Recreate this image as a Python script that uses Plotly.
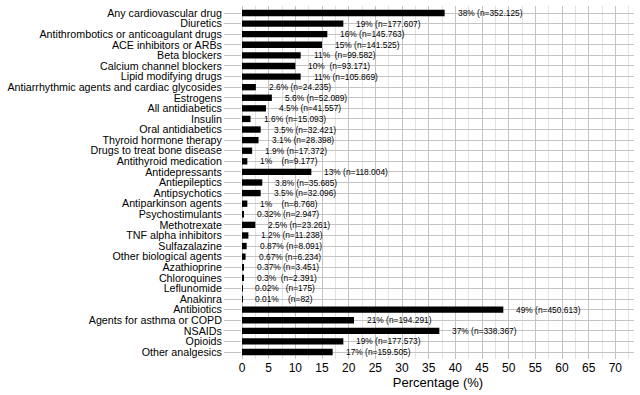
import plotly.graph_objects as go

categories = [
    "Any cardiovascular drug", "Diuretics", "Antithrombotics or anticoagulant drugs",
    "ACE inhibitors or ARBs", "Beta blockers", "Calcium channel blockers",
    "Lipid modifying drugs", "Antiarrhythmic agents and cardiac glycosides", "Estrogens",
    "All antidiabetics", "Insulin", "Oral antidiabetics", "Thyroid hormone therapy",
    "Drugs to treat bone disease", "Antithyroid medication", "Antidepressants",
    "Antiepileptics", "Antipsychotics", "Antiparkinson agents", "Psychostimulants",
    "Methotrexate", "TNF alpha inhibitors", "Sulfazalazine", "Other biological agents",
    "Azathioprine", "Chloroquines", "Leflunomide", "Anakinra", "Antibiotics",
    "Agents for asthma or COPD", "NSAIDs", "Opioids", "Other analgesics",
]
percent = [38, 19, 16, 15, 11, 10, 11, 2.6, 5.6, 4.5, 1.6, 3.5, 3.1, 1.9, 1, 13,
           3.8, 3.5, 1, 0.32, 2.5, 1.2, 0.87, 0.67, 0.37, 0.3, 0.02, 0.01,
           49, 21, 37, 19, 17]
labels = [
    "38% (n=352.125)", "19% (n=177.607)", "16% (n=145.763)", "15% (n=141.525)",
    "11%  (n=99.582)", "10%  (n=93.171)", "11% (n=105.869)", "2.6% (n=24.235)",
    "5.6% (n=52.089)", "4.5% (n=41.557)", "1.6% (n=15.093)", "3.5% (n=32.421)",
    "3.1% (n=28.398)", "1.9% (n=17.372)", "1%    (n=9.177)", "13% (n=118.004)",
    "3.8% (n=35.685)", "3.5% (n=32.096)", "1%    (n=8.768)", "0.32% (n=2.947)",
    "2.5% (n=23.261)", "1.2% (n=11.238)", "0.87% (n=8.091)", "0.67% (n=6.234)",
    "0.37% (n=3.451)", "0.3%  (n=2.391)", "0.02%   (n=175)", "0.01%    (n=82)",
    "49% (n=450.613)", "21% (n=194.291)", "37% (n=338.367)", "19% (n=177.573)",
    "17% (n=159.505)",
]

FONT = "Liberation Sans, Arial, Helvetica, sans-serif"

fig = go.Figure()
fig.add_trace(go.Bar(
    x=percent, y=categories, orientation="h",
    marker=dict(color="#000000", line=dict(width=0)),
    width=0.6, hoverinfo="skip",
))

for v, c, t in zip(percent, categories, labels):
    fig.add_annotation(
        x=v, y=c, text=t.replace(" ", "\u00a0"), showarrow=False,
        xanchor="left", yanchor="middle", xshift=11,
        font=dict(family=FONT, size=8.4, color="#000000"),
    )

fig.update_layout(
    width=640, height=395,
    margin=dict(l=242, r=6, t=6, b=36, autoexpand=False),
    paper_bgcolor="white", plot_bgcolor="white",
    showlegend=False,
    bargap=0.4,
    font=dict(family=FONT, color="#000000"),
)
fig.update_xaxes(
    range=[0, 73.5], dtick=5, tick0=0, automargin=False,
    showgrid=True, gridcolor="#c4c4c4", gridwidth=1,
    minor=dict(dtick=2.5, showgrid=True, gridcolor="#e2e2e2", gridwidth=1),
    zeroline=True, zerolinecolor="#c4c4c4", zerolinewidth=1,
    showline=False, ticks="",
    tickfont=dict(family=FONT, size=12, color="#000000"),
    title=dict(text="Percentage (%)", font=dict(family=FONT, size=13, color="#000000"), standoff=0),
)
fig.update_yaxes(
    autorange="reversed", automargin=False,
    tickmode="array", tickvals=categories,
    showgrid=True, gridcolor="#c4c4c4", gridwidth=1,
    ticks="outside", ticklen=17, tickcolor="#c4c4c4", tickwidth=1,
    showline=False,
    tickfont=dict(family=FONT, size=10.7, color="#000000"),
)

fig.write_html("out.html", config={"displayModeBar": False},
               post_script="document.body.style.margin='0px';")
